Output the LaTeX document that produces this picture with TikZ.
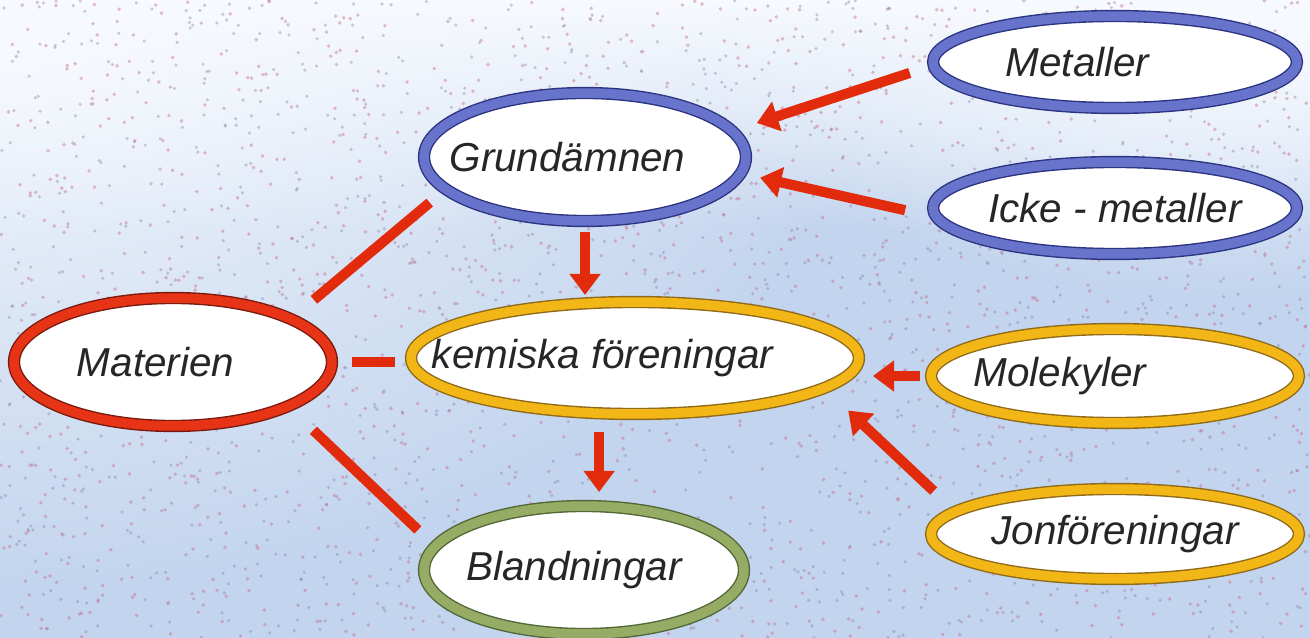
\documentclass[tikz,border=0pt]{standalone}
\usepackage{fontspec}
\setmainfont{Liberation Sans}
\usetikzlibrary{shapes.geometric,arrows.meta,fadings}
\definecolor{bgblue}{RGB}{194,212,238}
\definecolor{bgpale}{RGB}{247,250,254}
\definecolor{ringblue}{RGB}{104,116,204}
\definecolor{edgeblue}{RGB}{44,52,128}
\definecolor{ringred}{RGB}{232,52,22}
\definecolor{edgered}{RGB}{122,26,14}
\definecolor{ringgold}{RGB}{242,182,22}
\definecolor{edgegold}{RGB}{142,106,26}
\definecolor{ringgreen}{RGB}{150,172,100}
\definecolor{edgegreen}{RGB}{82,102,56}
\definecolor{arrowred}{RGB}{226,42,12}
\definecolor{speckred}{RGB}{196,110,138}
\definecolor{specklila}{RGB}{138,122,160}
\definecolor{inkgray}{RGB}{38,38,38}
\tikzfading[name=paleblob, inner color=transparent!0, outer color=transparent!100]
% text in a zero-width box so the ellipse keeps its set size
\newcommand{\bubbletext}[2][0pt]{\makebox[0pt]{#2\hspace*{#1}}}

\begin{document}
\begin{tikzpicture}[x=0.02cm,y=-0.02cm,
  bubble/.style={ellipse,fill=white,inner sep=0pt,outer sep=0pt,line width=0.8pt,
    double distance=5.4pt,text=inkgray,font=\fontsize{23}{26}\selectfont\itshape},
  blue ring/.style={bubble,draw=edgeblue,double=ringblue},
  red ring/.style={bubble,draw=edgered,double=ringred},
  gold ring/.style={bubble,draw=edgegold,double=ringgold},
  green ring/.style={bubble,draw=edgegreen,double=ringgreen},
  link/.style={draw=arrowred,line width=5.8pt},
  linkarrow/.style={link,-{Triangle[length=12pt,width=17pt]}}]
\useasboundingbox (0,0) rectangle (1310,638);

% bakgrund
\fill[bgblue] (0,0) rectangle (1310,638);
\shade[top color=bgpale, bottom color=bgblue] (0,0) rectangle (1310,230);
\fill[bgpale,path fading=paleblob] (0,0) ellipse [x radius=900, y radius=600];
\fill[bgpale,path fading=paleblob] (1250,0) ellipse [x radius=600, y radius=300];
\pgfmathsetseed{27}
\foreach \i in {1,...,1400}
  \fill[speckred,opacity=.45] ({rnd*1310},{rnd*638}) circle (1.1pt);
\foreach \i in {1,...,1400}
  \fill[specklila,opacity=.4] ({rnd*1310},{rnd*638}) circle (1pt);

% begrepp
\node[blue ring,minimum width=6.44cm,minimum height=2.56cm] (grund) at (585,157) {\bubbletext[0.7cm]{Grundämnen}};
\node[blue ring,minimum width=7.28cm,minimum height=1.84cm] (metaller) at (1115,62) {\bubbletext[1.5cm]{Metaller}};
\node[blue ring,minimum width=7.28cm,minimum height=1.84cm] (ickemet) at (1115,208) {\bubbletext{Icke - metaller}};
\node[red ring,minimum width=6.36cm,minimum height=2.56cm] (materien) at (173,362) {\bubbletext[0.7cm]{Materien}};
\node[gold ring,minimum width=8.96cm,minimum height=2.24cm] (kemiska) at (635,358) {\bubbletext[1.3cm]{kemiska föreningar}};
\node[gold ring,minimum width=7.36cm,minimum height=1.88cm] (molekyl) at (1115,376) {\bubbletext[2.2cm]{Molekyler}};
\node[gold ring,minimum width=7.36cm,minimum height=1.80cm] (jonfor) at (1115,534) {\bubbletext{Jonföreningar}};
\node[green ring,minimum width=6.40cm,minimum height=2.56cm] (bland) at (584,570) {\bubbletext[0.4cm]{Blandningar}};

% pilar
\draw[linkarrow,shorten <=0.5cm,shorten >=0.52cm] (metaller.181) -- (grund.10);
\draw[linkarrow,shorten <=0.65cm,shorten >=0.4cm] (ickemet.183) -- (grund.354);
\draw[linkarrow,shorten <=0.22cm,shorten >=0.14cm] (grund.south) -- (grund.south |- kemiska.north);
\draw[linkarrow,shorten <=0.38cm,shorten >=0.28cm] (kemiska.237) -- (kemiska.237 |- bland.north);
\draw[linkarrow,shorten <=0.22cm,shorten >=0.28cm] (molekyl.west) -- (molekyl.west -| kemiska.east);
\draw[linkarrow,shorten <=0.6cm,shorten >=0.66cm] (jonfor.172) -- (kemiska.351);

% linjer
\draw[link,shorten <=0.6cm,shorten >=0.42cm] (materien.20) -- (grund.193);
\draw[link,shorten <=0.4cm,shorten >=0.32cm] (materien.east) -- (materien.east -| kemiska.west);
\draw[link,shorten <=0.7cm,shorten >=0.48cm] (materien.339) -- (bland.171);
\end{tikzpicture}
\end{document}
